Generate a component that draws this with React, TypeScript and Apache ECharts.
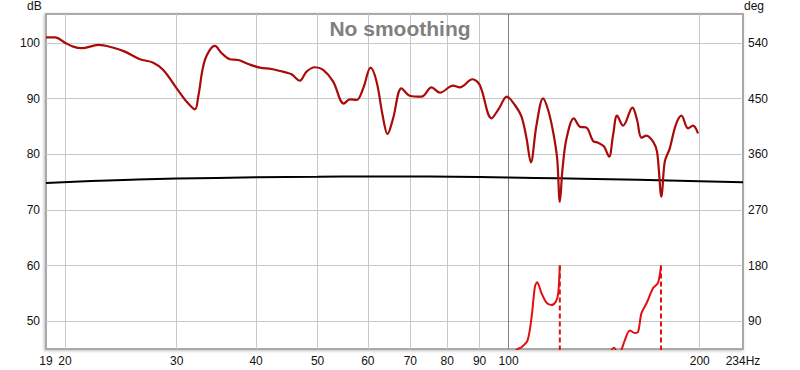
import React, { useEffect, useRef } from "react";
import * as echarts from "echarts";

// Magnitude (dB) — dark red trace
const magFreq = [18.67, 19.29, 20.0, 20.61, 21.25, 22.57, 23.69, 24.86, 26.25, 27.55, 28.57, 29.99, 31.1, 32.05, 32.43, 33.23, 34.46, 35.31, 36.38, 37.5, 38.88, 40.56, 42.32, 44.69, 45.5, 46.89, 48.04, 49.51, 51.03, 52.91, 55.0, 56.22, 57.61, 59.0, 60.6, 61.94, 63.29, 64.45, 65.77, 67.8, 69.87, 72.9, 75.6, 77.91, 81.75, 83.76, 87.71, 90.06, 93.98, 96.59, 99.34, 102.26, 104.77, 106.7, 108.39, 110.64, 113.32, 115.4, 117.5, 119.24, 120.4, 121.6, 123.38, 126.69, 129.46, 132.65, 135.84, 138.31, 140.85, 141.73, 143.97, 146.07, 148.21, 151.46, 156.69, 159.34, 161.89, 164.87, 168.86, 171.33, 174.08, 176.18, 179.41, 183.34, 187.18, 191.72, 195.14, 198.76];
const magDb = [101.0, 101.0, 100.05, 99.33, 99.05, 99.64, 99.23, 98.44, 97.07, 96.46, 95.14, 91.85, 89.44, 88.07, 90.34, 96.94, 99.46, 98.15, 97.07, 96.94, 96.22, 95.56, 95.32, 94.66, 94.37, 93.22, 94.84, 95.63, 95.14, 93.04, 89.1, 89.87, 89.75, 91.85, 95.56, 93.04, 87.05, 83.63, 86.46, 91.85, 90.52, 90.34, 92.03, 91.06, 92.32, 92.03, 93.47, 92.45, 86.46, 88.26, 90.34, 88.85, 86.74, 82.86, 78.54, 85.25, 90.05, 87.95, 84.05, 79.26, 71.46, 77.46, 82.86, 86.46, 84.95, 84.77, 82.37, 82.07, 81.53, 81.17, 79.55, 83.45, 86.92, 85.13, 88.36, 86.15, 82.97, 83.33, 82.25, 80.45, 72.36, 78.65, 81.06, 85.25, 86.92, 84.66, 85.13, 83.76];

// Black reference trace (dB)
const refFreq = [18.67, 22, 26, 30, 40, 50, 60, 75, 90, 110, 130, 160, 200, 234];
const refDb = [74.85, 75.2, 75.45, 75.62, 75.85, 75.95, 76.0, 75.98, 75.9, 75.75, 75.6, 75.4, 75.15, 74.95];

// Phase (deg) — bright red trace, two wrapped segments
const phase1Freq = [100.5, 103.0, 104.8, 107.1, 108.7, 110.0, 110.9, 112.7, 114.7, 116.8, 118.7, 119.7, 120.4];
const phase1Deg = [25, 44, 48, 59, 97, 146, 153, 135, 120, 116, 122, 135, 180];
const phase2Freq = [143.5, 146.6, 149.0, 150.6, 152.4, 155.2, 158.0, 159.9, 161.9, 164.9, 168.9, 171.9, 173.8];
const phase2Deg = [35, 47, 35, 44, 59, 75, 71, 72.5, 103, 119, 143.5, 152, 180];
const phaseWrapFreq = [120.4, 173.8];

// Axes
const xMinHz = 18.67;
const xMaxHz = 234;
const xGridHz = [20, 30, 40, 50, 60, 70, 80, 90, 100, 200];
const xLabelHz = [18.67, 20, 30, 40, 50, 60, 70, 80, 90, 100, 200, 234];
const xLabelText = ["19", "20", "30", "40", "50", "60", "70", "80", "90", "100", "200", "234Hz"];
const dbTicks = [50, 60, 70, 80, 90, 100];
const degTicks = [90, 180, 270, 360, 450, 540];
const dbMin = 45;
const dbMax = 105.2;
const degMin = 45;
const degMax = 586.8;

const L = (f: number) => Math.log10(f);
const zip = (xs: number[], ys: number[]) => xs.map((x, i) => [L(x), ys[i]]);

export default function App() {
  const ref = useRef<HTMLDivElement>(null);
  useEffect(() => {
    if (!ref.current) return;
    const chart = echarts.init(ref.current, undefined, { renderer: "svg" });
    const font = "Liberation Sans, Arial, sans-serif";
    const labelStyle = { color: "#111", fontSize: 12, fontFamily: font };
    const option: any = {
      animation: false,
      backgroundColor: "#fff",
      grid: {
        left: 46,
        right: 57,
        top: 14,
        bottom: 21,
        show: true,
        backgroundColor: "#fff",
        borderColor: "#a9a9a9",
        borderWidth: 2,
        shadowColor: "rgba(0,0,0,0.25)",
        shadowBlur: 3,
        shadowOffsetX: -1,
        shadowOffsetY: 1,
      },
      title: {
        text: "No smoothing",
        left: "center",
        top: 13,
        textStyle: { color: "#808080", fontSize: 21, fontWeight: "bold", fontFamily: font },
      },
      graphic: [
        { type: "text", left: 27, top: 0, style: { text: "dB", fill: "#111", fontSize: 12, fontFamily: font } },
        { type: "text", left: 744, top: 0, style: { text: "deg", fill: "#111", fontSize: 12, fontFamily: font } },
      ],
      xAxis: {
        type: "value",
        min: L(xMinHz),
        max: L(xMaxHz),
        axisLine: { show: false },
        axisTick: { show: false, customValues: xGridHz.map(L) },
        axisLabel: {
          ...labelStyle,
          margin: 6,
          customValues: xLabelHz.map(L),
          showMinLabel: true,
          showMaxLabel: true,
          formatter: (v: number) => {
            let best = 0;
            let bd = Infinity;
            xLabelHz.forEach((h, i) => {
              const d = Math.abs(L(h) - v);
              if (d < bd) { bd = d; best = i; }
            });
            return xLabelText[best];
          },
        },
        splitLine: { show: true, lineStyle: { color: "#c8c8c8", width: 1 } },
      },
      yAxis: [
        {
          type: "value",
          min: dbMin,
          max: dbMax,
          axisLine: { show: false },
          axisTick: { show: false, customValues: dbTicks },
          axisLabel: { ...labelStyle, margin: 6, customValues: dbTicks },
          splitLine: { show: true, lineStyle: { color: "#c8c8c8", width: 1 } },
        },
        {
          type: "value",
          min: degMin,
          max: degMax,
          position: "right",
          axisLine: { show: false },
          axisTick: { show: false, customValues: degTicks },
          axisLabel: { ...labelStyle, margin: 5, customValues: degTicks },
          splitLine: { show: false },
        },
      ],
      series: [
        {
          type: "line",
          data: zip(refFreq, refDb),
          smooth: true,
          symbol: "none",
          lineStyle: { color: "#000", width: 2 },
          z: 3,
          markLine: {
            silent: true,
            symbol: "none",
            label: { show: false },
            lineStyle: { color: "#808080", width: 1, type: "solid" },
            data: [{ xAxis: L(100) }],
            z: 1,
          },
        },
        {
          type: "line",
          data: zip(magFreq, magDb),
          smooth: 0.35,
          symbol: "none",
          lineStyle: { color: "#aa0a0a", width: 2.2 },
          z: 4,
        },
        {
          type: "line",
          yAxisIndex: 1,
          data: zip(phase1Freq, phase1Deg),
          smooth: 0.3,
          symbol: "none",
          lineStyle: { color: "#e01010", width: 2 },
          z: 5,
        },
        {
          type: "line",
          yAxisIndex: 1,
          data: zip(phase2Freq, phase2Deg),
          smooth: 0.3,
          symbol: "none",
          lineStyle: { color: "#e01010", width: 2 },
          z: 5,
        },
        ...phaseWrapFreq.map((f) => ({
          type: "line",
          yAxisIndex: 1,
          data: [[L(f), 180], [L(f), -180]],
          symbol: "none",
          lineStyle: { color: "#e01010", width: 2, type: [5, 3] },
          z: 5,
        })),
      ],
    };
    chart.setOption(option);
    return () => chart.dispose();
  }, []);
  return <div ref={ref} style={{ position: "fixed", left: 0, top: 0, width: 800, height: 370 }} />;
}
